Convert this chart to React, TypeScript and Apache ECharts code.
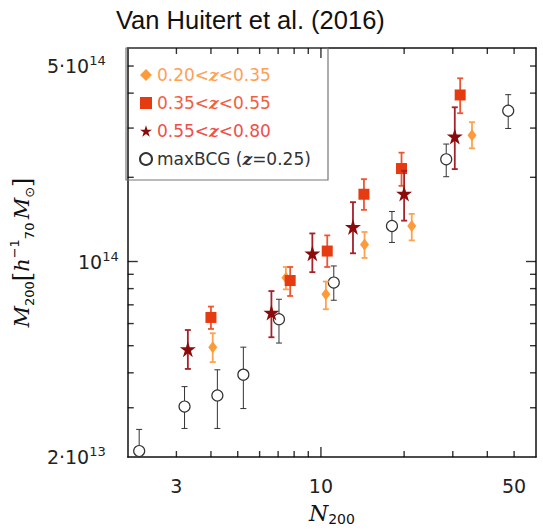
import React, { useEffect, useRef } from "react";
import * as echarts from "echarts";

// ---- data (N200 richness, M200 in units of 1e13 h70^-1 Msun) ----
const labelsSeries = ["0.20<z<0.35", "0.35<z<0.55", "0.55<z<0.80", "maxBCG (z=0.25)"];

const nOrange = [4.06, 7.47, 10.42, 14.38, 21.31, 35.2];
const mOrange = [4.94, 8.74, 7.63, 11.5, 13.4, 28.3];
const loOrange = [4.37, 7.95, 6.75, 10.3, 11.9, 25.4];
const hiOrange = [5.54, 9.56, 8.48, 12.75, 14.8, 31.5];

const nRed = [4.0, 7.74, 10.54, 14.31, 19.57, 31.9];
const mRed = [6.31, 8.55, 10.9, 17.4, 21.5, 39.4];
const loRed = [5.74, 7.53, 9.56, 15.3, 18.65, 33.9];
const hiRed = [6.9, 9.56, 12.4, 19.7, 24.5, 45.2];

const nStar = [3.3, 6.62, 9.31, 13.06, 20.0, 30.5];
const mStar = [4.86, 6.57, 10.7, 13.3, 17.5, 28.0];
const loStar = [4.13, 5.36, 9.16, 10.7, 14.0, 21.4];
const hiStar = [5.69, 7.84, 12.6, 16.3, 21.1, 35.6];

const nBCG = [2.2, 3.21, 4.22, 5.24, 7.05, 11.13, 18.07, 28.4, 47.6];
const mBCG = [2.1, 3.03, 3.32, 3.94, 6.22, 8.41, 13.4, 23.2, 34.6];
const loBCG = [1.75, 2.53, 2.53, 2.98, 5.11, 7.27, 11.7, 20.1, 29.9];
const hiBCG = [2.51, 3.57, 4.1, 4.94, 7.33, 9.64, 15.1, 26.3, 39.5];

const xRange = [2, 60];
const yRange = [2e13, 5.8e14];
const xMinorTicks = [3, 4, 5, 6, 7, 8, 9, 20, 30, 40, 50];
const xMajorTicks = [10];
const xLabelTicks = [3, 10, 50];
const yMinorTicks = [3e13, 4e13, 5e13, 6e13, 7e13, 8e13, 9e13, 2e14, 3e14, 4e14, 5e14];
const yMajorTicks = [1e14];
const yLabelTicks = [2e13, 1e14, 5e14];

const STAR =
  "path://M50,0 L61.2,34.5 L97.6,34.5 L68.2,55.9 L79.4,90.5 L50,69.1 L20.6,90.5 L31.8,55.9 L2.4,34.5 L38.8,34.5 Z";

const L = Math.log10;
const E13 = 1e13;

function pts(n: number[], m: number[]) {
  return n.map((v, i) => [L(v), L(m[i] * E13)]);
}
function errs(n: number[], lo: number[], hi: number[]) {
  return n.map((v, i) => [L(v), L(lo[i] * E13), L(hi[i] * E13)]);
}

function errSeries(name: string, data: number[][], color: string, width: number, z: number) {
  return {
    type: "custom",
    name,
    z,
    clip: true,
    silent: true,
    data,
    encode: { x: 0, y: [1, 2] },
    renderItem: (params: any, api: any) => {
      const x = api.value(0);
      const a = api.coord([x, api.value(1)]);
      const b = api.coord([x, api.value(2)]);
      const w = 3;
      const style = { stroke: color, lineWidth: width };
      return {
        type: "group",
        children: [
          { type: "line", shape: { x1: a[0], y1: a[1], x2: b[0], y2: b[1] }, style },
          { type: "line", shape: { x1: a[0] - w, y1: a[1], x2: a[0] + w, y2: a[1] }, style },
          { type: "line", shape: { x1: b[0] - w, y1: b[1], x2: b[0] + w, y2: b[1] }, style },
        ],
      };
    },
  };
}

const axisColor = "#111";
const TW = 1.4;

// inward tick marks on the four frame edges, as thin rect symbols placed through the axis scales
function tickItems() {
  const items: any[] = [];
  const yb = L(yRange[0]);
  const yt = L(yRange[1]);
  const xl = L(xRange[0]);
  const xr = L(xRange[1]);
  const addX = (v: number, len: number) => {
    items.push({ value: [L(v), yb], symbolSize: [TW, len], symbolOffset: [0, -len / 2] });
    items.push({ value: [L(v), yt], symbolSize: [TW, len], symbolOffset: [0, len / 2] });
  };
  const addY = (v: number, len: number) => {
    items.push({ value: [xl, L(v)], symbolSize: [len, TW], symbolOffset: [len / 2, 0] });
    items.push({ value: [xr, L(v)], symbolSize: [len, TW], symbolOffset: [-len / 2, 0] });
  };
  xMinorTicks.forEach((v) => addX(v, 6));
  xMajorTicks.forEach((v) => addX(v, 10));
  yMinorTicks.forEach((v) => addY(v, 6));
  yMajorTicks.forEach((v) => addY(v, 10));
  return items;
}

const SANS = "DejaVu Sans";

function nearest(list: number[], v: number) {
  let best = list[0];
  list.forEach((t) => {
    if (Math.abs(L(t) - v) < Math.abs(L(best) - v)) best = t;
  });
  return best;
}

const legendColors = ["#FFA055", "#F0603F", "#EE5048", "#333333"];

export default function App() {
  const ref = useRef<HTMLDivElement>(null);
  useEffect(() => {
    if (!ref.current) return;
    const chart = echarts.init(ref.current, null, { renderer: "svg" });
    const lineStyle = { color: axisColor, width: 1.5 };
    const option: any = {
      animation: false,
      backgroundColor: "#fff",
      title: {
        text: "Van Huitert et al. (2016)",
        left: 116,
        top: 7,
        padding: 0,
        textStyle: { fontFamily: "Liberation Sans", fontSize: 25.5, fontWeight: "normal", color: "#111" },
      },
      grid: { left: 126, right: 7, top: 48, bottom: 72, containLabel: false },
      xAxis: [
        {
          type: "value",
          position: "bottom",
          min: L(xRange[0]),
          max: L(xRange[1]),
          axisLine: { show: true, onZero: false, lineStyle },
          axisTick: { show: false },
          splitLine: { show: false },
          axisLabel: {
            customValues: xLabelTicks.map(L),
            margin: 19,
            fontSize: 19,
            fontFamily: SANS,
            color: "#222",
            formatter: (v: number) => String(nearest(xLabelTicks, v)),
          },
          name: "{n|N}{sub|200}",
          nameLocation: "middle",
          nameGap: 43,
          nameTextStyle: {
            lineHeight: 26,
            rich: {
              n: { fontFamily: "DejaVu Serif", fontStyle: "italic", fontSize: 22, lineHeight: 26, color: "#111" },
              sub: { fontFamily: SANS, fontSize: 14, lineHeight: 14, verticalAlign: "bottom", color: "#111" },
            },
          },
        },
        {
          type: "value",
          position: "top",
          min: L(xRange[0]),
          max: L(xRange[1]),
          axisLine: { show: true, onZero: false, lineStyle },
          axisTick: { show: false },
          axisLabel: { show: false },
          splitLine: { show: false },
        },
      ],
      yAxis: [
        {
          type: "value",
          position: "left",
          min: L(yRange[0]),
          max: L(yRange[1]),
          axisLine: { show: true, onZero: false, lineStyle },
          axisTick: { show: false },
          splitLine: { show: false },
          axisLabel: {
            customValues: yLabelTicks.map(L),
            margin: 9,
            lineHeight: 24,
            formatter: (v: number) => {
              const best = nearest(yLabelTicks, v);
              const ex = Math.floor(L(best) + 1e-9);
              const mant = Math.round(best / Math.pow(10, ex));
              if (mant === 1) return `{m|10}{s|${ex}}`;
              return `{m|${mant}·10}{sp|${ex}}`;
            },
            rich: {
              m: { fontFamily: SANS, fontSize: 19, lineHeight: 24, color: "#222" },
              s: { fontFamily: SANS, fontSize: 13, lineHeight: 14, verticalAlign: "top", color: "#222" },
              sp: { fontFamily: SANS, fontSize: 13, lineHeight: 14, verticalAlign: "top", color: "#222", padding: [0, 13, 0, 0] },
            },
          },
          name: "{n|M}{sub|200}{b|[}{n|h}{sup|−1}{sub|70} {n|M}{sub|⊙}{b|]}",
          nameLocation: "middle",
          nameGap: 70,
          nameTextStyle: {
            lineHeight: 28,
            rich: {
              n: { fontFamily: "DejaVu Serif", fontStyle: "italic", fontSize: 21, lineHeight: 28, color: "#111" },
              b: { fontFamily: "DejaVu Serif", fontSize: 24, lineHeight: 28, color: "#111" },
              sub: { fontFamily: SANS, fontSize: 13, lineHeight: 13, verticalAlign: "bottom", color: "#111" },
              sup: { fontFamily: SANS, fontSize: 13, lineHeight: 13, verticalAlign: "top", color: "#111" },
            },
          },
        },
        {
          type: "value",
          position: "right",
          min: L(yRange[0]),
          max: L(yRange[1]),
          axisLine: { show: true, onZero: false, lineStyle },
          axisTick: { show: false },
          axisLabel: { show: false },
          splitLine: { show: false },
        },
      ],
      legend: {
        orient: "vertical",
        left: 139,
        top: 66,
        padding: 0,
        itemWidth: 12,
        itemHeight: 12,
        itemGap: 10,
        textStyle: { fontFamily: SANS, fontSize: 17, lineHeight: 18 },
        formatter: (name: string) => {
          const i = labelsSeries.indexOf(name);
          if (i === 3) return `maxBCG ({z3|z}=0.25)`;
          const parts = name.split("z");
          return `${parts[0]}{z${i}|z}${parts[1]}`;
        },
        data: labelsSeries.map((name, i) => ({
          name,
          icon: i === 0 ? "diamond" : i === 1 ? "rect" : i === 2 ? STAR : "circle",
          textStyle: {
            color: legendColors[i],
            rich: {
              [`z${i}`]: {
                fontFamily: "DejaVu Serif",
                fontStyle: "italic",
                fontWeight: "bold",
                fontSize: 17,
                lineHeight: 18,
                color: legendColors[i],
              },
            },
          },
        })),
      },
      graphic: [
        {
          type: "rect",
          shape: { x: 126, y: 48, width: 202, height: 132 },
          style: { fill: "none", stroke: "#777", lineWidth: 1.2 },
          z: 1,
        },
      ],
      series: [
        {
          type: "scatter",
          name: "frameTicks",
          symbol: "rect",
          clip: false,
          itemStyle: { color: "#000" },
          data: tickItems(),
        },
        errSeries("errBCG", errs(nBCG, loBCG, hiBCG), "#333", 1, 2),
        {
          type: "scatter",
          name: labelsSeries[3],
          symbol: "circle",
          symbolSize: 11,
          z: 3,
          itemStyle: { color: "#fff", borderColor: "#333", borderWidth: 1.2, opacity: 1 },
          data: pts(nBCG, mBCG),
        },
        errSeries("errOrange", errs(nOrange, loOrange, hiOrange), "#FFA24F", 1.8, 4),
        {
          type: "scatter",
          name: labelsSeries[0],
          symbol: "diamond",
          symbolSize: [9, 12],
          z: 5,
          itemStyle: { color: "#FF9A3A", opacity: 1 },
          data: pts(nOrange, mOrange),
        },
        errSeries("errRed", errs(nRed, loRed, hiRed), "#EE5533", 1.8, 6),
        {
          type: "scatter",
          name: labelsSeries[1],
          symbol: "rect",
          symbolSize: 11,
          z: 7,
          itemStyle: { color: "#E63A10", opacity: 1 },
          data: pts(nRed, mRed),
        },
        errSeries("errStar", errs(nStar, loStar, hiStar), "#A52228", 1.8, 8),
        {
          type: "scatter",
          name: labelsSeries[2],
          symbol: STAR,
          symbolSize: 16,
          z: 9,
          itemStyle: { color: "#8B0A0A", opacity: 1 },
          data: pts(nStar, mStar),
        },
      ],
    };
    chart.setOption(option);
    return () => chart.dispose();
  }, []);
  return <div ref={ref} style={{ width: 543, height: 531, position: "absolute", left: 0, top: 0 }} />;
}
